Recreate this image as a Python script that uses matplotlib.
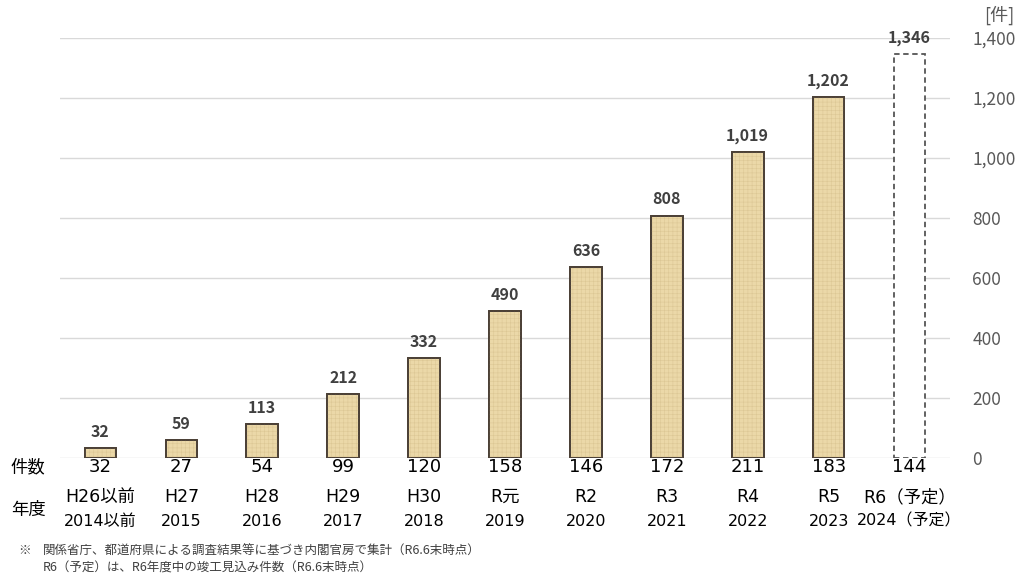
import matplotlib.pyplot as plt
from matplotlib.ticker import FuncFormatter

plt.rcParams['font.family'] = ['Noto Sans CJK JP', 'DejaVu Sans']
plt.rcParams['hatch.linewidth'] = 0.4

# ---- data ----
era_labels = ["H26以前", "H27", "H28", "H29", "H30", "R元", "R2", "R3", "R4", "R5", "R6（予定）"]
year_labels = ["2014以前", "2015", "2016", "2017", "2018", "2019", "2020", "2021", "2022", "2023", "2024（予定）"]
cumulative = [32, 59, 113, 212, 332, 490, 636, 808, 1019, 1202, 1346]
yearly = [32, 27, 54, 99, 120, 158, 146, 172, 211, 183, 144]
y_ticks = [0, 200, 400, 600, 800, 1000, 1200, 1400]

BAR_FILL = "#EBD8A8"
BAR_EDGE = "#4B4036"
TEXT_DARK = "#404040"
TEXT_GRAY = "#595959"
ROW_FONT = ['DejaVu Sans', 'Noto Sans CJK JP']

fig = plt.figure(figsize=(10.24, 5.80), dpi=100)
ax = fig.add_axes([60 / 1024, 122 / 580, 890 / 1024, 420 / 580])

x = list(range(len(cumulative)))
n_actual = len(cumulative) - 1

ax.bar(x[:n_actual], cumulative[:n_actual], width=0.39,
       color=BAR_FILL, edgecolor=BAR_EDGE, linewidth=1.3, zorder=3)
# faint paper-like texture
ax.bar(x[:n_actual], cumulative[:n_actual], width=0.39,
       color="none", edgecolor="#DCC795", linewidth=0, hatch="++++", zorder=3.5)
ax.bar(x[:n_actual], cumulative[:n_actual], width=0.39,
       color="none", edgecolor=BAR_EDGE, linewidth=1.3, zorder=4)
ax.bar(x[n_actual:], cumulative[n_actual:], width=0.39,
       color="white", edgecolor="#555555", linewidth=1.3,
       linestyle=(0, (3, 2)), zorder=3)

for xi, v in zip(x, cumulative):
    ax.text(xi, v + 28, f"{v:,}", ha="center", va="bottom",
            fontsize=11.5, fontweight="bold", color=TEXT_DARK, clip_on=False)

ax.set_xlim(-0.5, 10.5)
ax.set_ylim(0, 1400)
ax.set_yticks(y_ticks)
ax.yaxis.set_major_formatter(FuncFormatter(lambda v, p: f"{int(v):,}"))
ax.yaxis.tick_right()
ax.tick_params(axis="y", length=0, pad=16, labelsize=12.5, labelcolor=TEXT_GRAY)
ax.tick_params(axis="x", length=0, labelbottom=False)
ax.grid(axis="y", color="#D9D9D9", linewidth=1, zorder=0)
for s in ax.spines.values():
    s.set_visible(False)

# bottom rows: counts per year, era and calendar year
trans = ax.get_xaxis_transform()
for xi, c, e, yl in zip(x, yearly, era_labels, year_labels):
    ax.text(xi, -0.022, str(c), transform=trans, ha="center", va="center",
            fontsize=13, color="black", family=ROW_FONT, clip_on=False)
    ax.text(xi, -0.093, e, transform=trans, ha="center", va="center",
            fontsize=12.5, color="black", family=ROW_FONT, clip_on=False)
    ax.text(xi, -0.150, yl, transform=trans, ha="center", va="center",
            fontsize=11.5, color="black", family=ROW_FONT, clip_on=False)

fig.text(28 / 1024, 1 - 467 / 580, "件数", ha="center", va="center", fontsize=12.5)
fig.text(28 / 1024, 1 - 510 / 580, "年度", ha="center", va="center", fontsize=12.5)
fig.text(999 / 1024, 1 - 15 / 580, "[件]", ha="center", va="center",
         fontsize=13, color=TEXT_GRAY)

fig.text(18 / 1024, 1 - 551 / 580, "※", ha="left", va="center", fontsize=9, color=TEXT_DARK)
fig.text(43 / 1024, 1 - 551 / 580,
         "関係省庁、都道府県による調査結果等に基づき内閣官房で集計（R6.6末時点）",
         ha="left", va="center", fontsize=9, color=TEXT_DARK)
fig.text(43 / 1024, 1 - 568 / 580,
         "R6（予定）は、R6年度中の竣工見込み件数（R6.6末時点）",
         ha="left", va="center", fontsize=9, color=TEXT_DARK)

fig.savefig("out.png", dpi=100)
